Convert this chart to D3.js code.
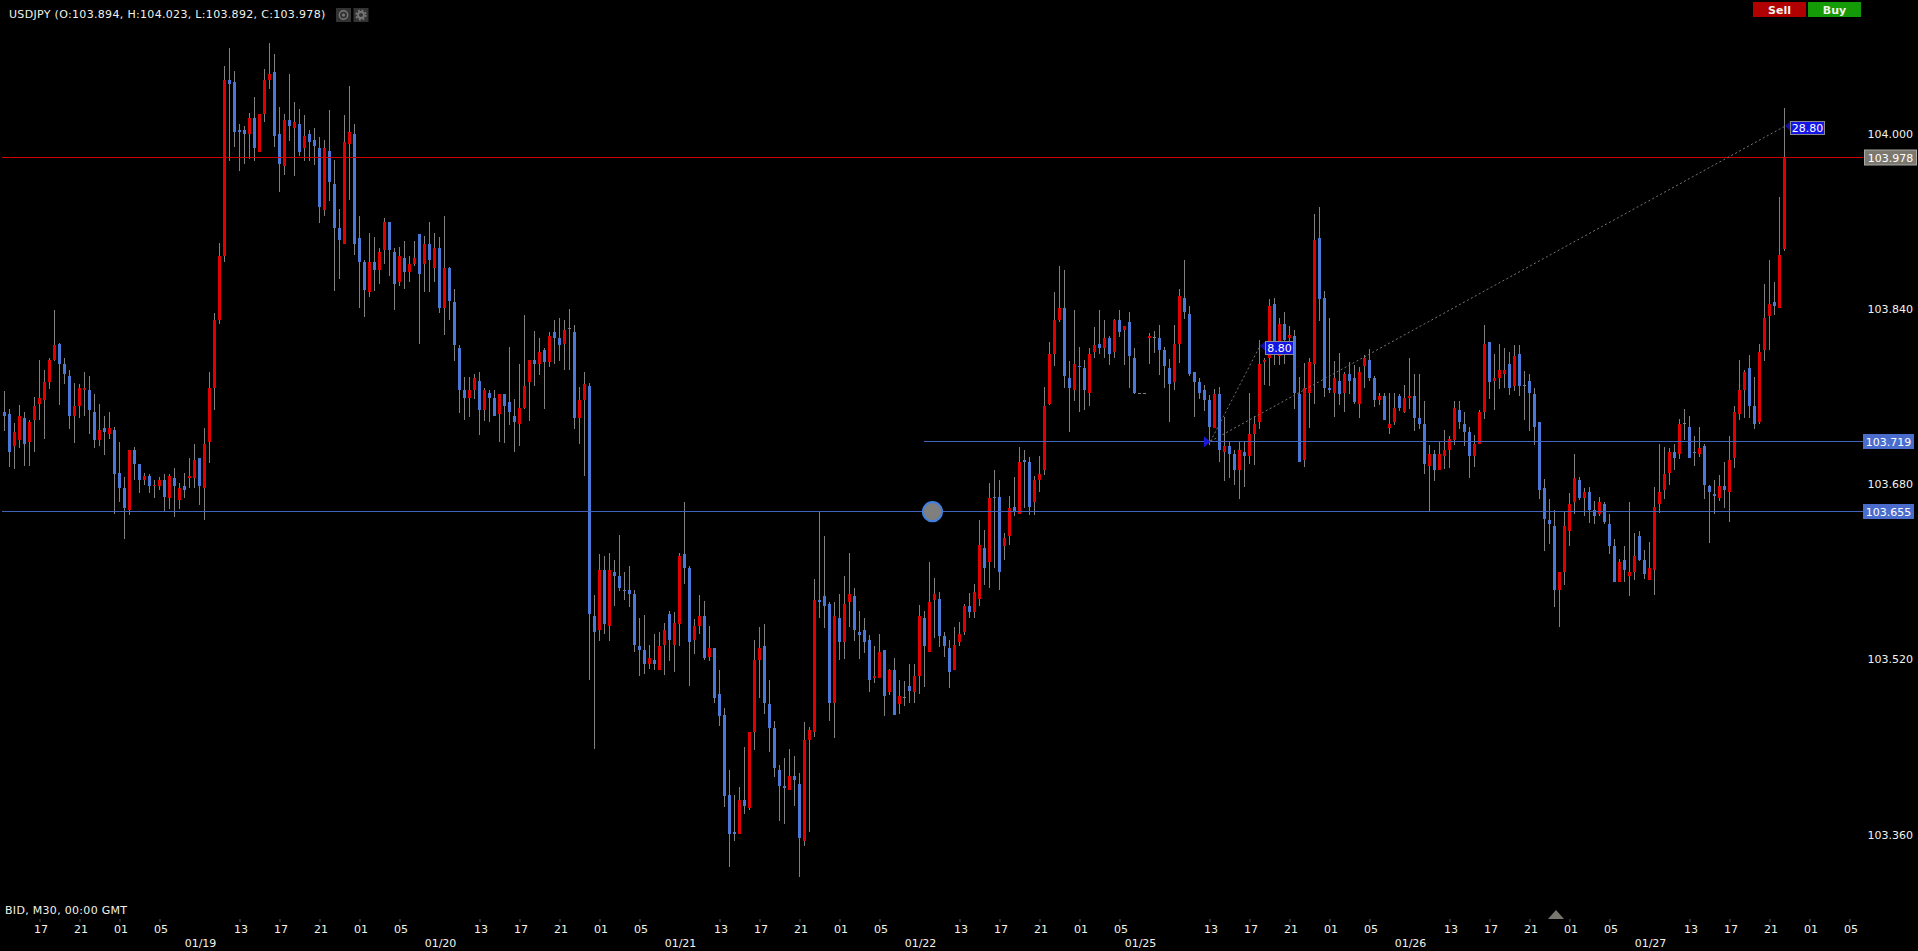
<!DOCTYPE html>
<html>
<head>
<meta charset="utf-8">
<title>USDJPY M30</title>
<script src="https://d3js.org/d3.v7.min.js"></script>
<style>
  html, body { margin: 0; padding: 0; background: #000; overflow: hidden; }
  svg { display: block; }
  text { font-family: "DejaVu Sans", sans-serif; font-size: 11px; fill: #f2f2ea; }
</style>
</head>
<body>
<svg id="chart" width="1918" height="951"></svg>
<script>
var highs = [
103.764,103.748,103.735,103.752,103.745,103.738,103.759,103.793,103.784,103.795,
103.838,103.808,103.795,103.784,103.772,103.771,103.782,103.778,103.762,103.753,
103.742,103.745,103.732,103.718,103.686,103.711,103.713,103.698,103.690,103.689,
103.683,103.686,103.689,103.689,103.694,103.680,103.690,103.703,103.716,103.703,
103.731,103.782,103.836,103.900,104.061,104.078,104.057,104.008,104.006,104.018,
104.033,104.017,104.058,104.082,104.072,104.024,104.017,104.054,104.028,104.022,
104.016,104.003,104.005,103.996,103.994,104.021,103.975,103.931,104.016,104.043,
104.008,103.924,103.884,103.909,103.905,103.895,103.922,103.919,103.895,103.896,
103.901,103.888,103.901,103.908,103.906,103.919,103.909,103.905,103.924,103.878,
103.858,103.806,103.777,103.777,103.780,103.782,103.767,103.765,103.765,103.762,
103.762,103.805,103.757,103.789,103.834,103.793,103.819,103.813,103.804,103.818,
103.829,103.831,103.829,103.839,103.825,103.768,103.782,103.772,103.578,103.616,
103.614,103.617,103.610,103.633,103.599,103.605,103.583,103.557,103.560,103.533,
103.543,103.544,103.553,103.564,103.563,103.617,103.663,103.605,103.556,103.578,
103.573,103.550,103.530,103.510,103.475,103.418,103.396,103.403,103.439,103.453,
103.537,103.549,103.552,103.501,103.463,103.423,103.429,103.438,103.431,103.416,
103.462,103.458,103.593,103.654,103.632,103.572,103.572,103.579,103.596,103.617,
103.585,103.564,103.557,103.542,103.532,103.543,103.528,103.511,103.521,103.501,
103.500,103.515,103.515,103.569,103.564,103.608,103.594,103.581,103.544,103.537,
103.549,103.554,103.570,103.580,103.588,103.647,103.638,103.680,103.692,103.683,
103.635,103.669,103.686,103.713,103.711,103.704,103.687,103.705,103.768,103.809,
103.855,103.879,103.875,103.792,103.838,103.805,103.793,103.804,103.823,103.838,
103.829,103.815,103.830,103.838,103.824,103.837,103.804,103.763,103.763,103.817,
103.819,103.825,103.805,103.794,103.825,103.858,103.884,103.842,103.782,103.776,
103.770,103.761,103.766,103.768,103.741,103.718,103.711,103.718,103.718,103.763,
103.742,103.811,103.795,103.848,103.849,103.831,103.837,103.824,103.820,103.777,
103.790,103.795,103.926,103.932,103.856,103.831,103.792,103.799,103.782,103.791,
103.788,103.786,103.797,103.803,103.778,103.763,103.763,103.763,103.763,103.762,
103.770,103.795,103.780,103.780,103.755,103.715,103.711,103.718,103.729,103.723,
103.755,103.755,103.745,103.732,103.724,103.747,103.825,103.809,103.798,103.807,
103.804,103.800,103.806,103.806,103.783,103.780,103.767,103.736,103.684,103.666,
103.656,103.599,103.654,103.671,103.707,103.686,103.676,103.677,103.664,103.668,
103.663,103.652,103.629,103.611,103.623,103.663,103.635,103.637,103.619,103.627,
103.677,103.716,103.713,103.712,103.716,103.739,103.748,103.742,103.723,103.732,
103.716,103.679,103.683,103.688,103.700,103.723,103.751,103.793,103.784,103.797,
103.777,103.807,103.862,103.884,103.864,103.942,104.023
];
var opens = [
103.745,103.743,103.714,103.720,103.740,103.718,103.738,103.753,103.756,103.773,
103.793,103.807,103.789,103.778,103.742,103.751,103.765,103.765,103.745,103.720,
103.731,103.725,103.729,103.690,103.676,103.656,103.711,103.698,103.683,103.687,
103.678,103.678,103.683,103.667,103.685,103.665,103.678,103.685,103.685,103.703,
103.676,103.718,103.767,103.829,103.888,104.048,104.047,104.003,104.003,103.999,
104.014,103.983,104.017,104.048,104.056,103.999,103.970,104.012,104.005,104.008,
103.986,103.999,103.994,103.986,103.930,103.984,103.953,103.913,103.899,103.990,
103.999,103.904,103.882,103.855,103.882,103.875,103.893,103.919,103.891,103.864,
103.886,103.873,103.880,103.908,103.880,103.899,103.877,103.895,103.840,103.877,
103.846,103.804,103.765,103.758,103.765,103.774,103.747,103.763,103.758,103.743,
103.762,103.754,103.742,103.734,103.749,103.773,103.793,103.789,103.802,103.791,
103.818,103.813,103.807,103.822,103.818,103.740,103.756,103.769,103.559,103.546,
103.601,103.550,103.599,103.596,103.583,103.583,103.579,103.532,103.528,103.515,
103.519,103.510,103.533,103.561,103.533,103.552,103.616,103.603,103.537,103.550,
103.559,103.522,103.530,103.488,103.469,103.396,103.362,103.360,103.391,103.384,
103.453,103.519,103.532,103.479,103.457,103.418,103.404,103.400,103.413,103.406,
103.354,103.446,103.453,103.574,103.577,103.570,103.480,103.557,103.535,103.572,
103.577,103.544,103.546,103.537,103.502,103.502,103.528,103.490,103.510,103.479,
103.485,103.495,103.490,103.504,103.557,103.526,103.574,103.575,103.541,103.530,
103.510,103.535,103.544,103.568,103.563,103.575,103.621,103.608,103.668,103.668,
103.623,103.632,103.659,103.652,103.701,103.700,103.663,103.683,103.692,103.753,
103.798,103.829,103.840,103.776,103.765,103.787,103.785,103.763,103.800,103.807,
103.804,103.813,103.800,103.829,103.820,103.827,103.795,103.763,103.763,103.813,
103.814,103.813,103.802,103.785,103.773,103.807,103.849,103.835,103.782,103.773,
103.765,103.756,103.731,103.762,103.709,103.714,103.707,103.692,103.709,103.705,
103.725,103.736,103.791,103.795,103.844,103.796,103.826,103.813,103.815,103.762,
103.701,103.763,103.789,103.904,103.849,103.767,103.763,103.774,103.763,103.780,
103.776,103.753,103.787,103.793,103.776,103.756,103.760,103.731,103.736,103.760,
103.745,103.758,103.760,103.740,103.734,103.696,103.707,103.692,103.705,103.711,
103.720,103.747,103.734,103.727,103.705,103.716,103.745,103.809,103.774,103.776,
103.780,103.789,103.769,103.798,103.770,103.774,103.762,103.736,103.676,103.647,
103.641,103.583,103.599,103.637,103.663,103.683,103.667,103.672,103.656,103.652,
103.661,103.643,103.623,103.590,103.610,103.596,103.599,103.632,103.610,103.592,
103.601,103.661,103.674,103.690,103.709,103.707,103.735,103.732,103.709,103.707,
103.714,103.678,103.670,103.667,103.678,103.672,103.703,103.743,103.765,103.785,
103.751,103.736,103.802,103.833,103.846,103.840,103.894
];
var closes = [
103.742,103.709,103.727,103.742,103.716,103.736,103.751,103.758,103.773,103.793,
103.806,103.789,103.780,103.742,103.751,103.767,103.767,103.747,103.720,103.729,
103.727,103.731,103.689,103.676,103.658,103.711,103.698,103.683,103.687,103.678,
103.679,103.683,103.668,103.687,103.678,103.676,103.674,103.687,103.701,103.678,
103.716,103.767,103.829,103.888,104.048,104.045,104.001,104.001,103.999,104.014,
103.986,104.017,104.048,104.054,103.997,103.972,104.012,104.006,104.010,103.983,
103.997,103.992,103.988,103.932,103.986,103.955,103.913,103.902,103.992,104.001,
103.899,103.882,103.857,103.882,103.875,103.891,103.919,103.893,103.862,103.888,
103.873,103.880,103.886,103.871,103.899,103.884,103.895,103.840,103.877,103.847,
103.806,103.765,103.758,103.765,103.776,103.747,103.765,103.758,103.742,103.762,
103.751,103.745,103.736,103.749,103.769,103.793,103.789,103.800,103.791,103.815,
103.813,103.806,103.820,103.822,103.740,103.756,103.771,103.561,103.544,103.601,
103.552,103.601,103.596,103.585,103.582,103.579,103.533,103.528,103.515,103.521,
103.515,103.532,103.546,103.537,103.553,103.614,103.603,103.535,103.550,103.559,
103.521,103.530,103.484,103.468,103.395,103.360,103.360,103.391,103.386,103.453,
103.519,103.530,103.480,103.457,103.420,103.404,103.402,103.413,103.409,103.356,
103.446,103.455,103.574,103.572,103.568,103.480,103.559,103.535,103.570,103.579,
103.546,103.542,103.535,103.501,103.504,103.526,103.486,103.510,103.469,103.486,
103.485,103.491,103.504,103.559,103.532,103.572,103.579,103.541,103.532,103.508,
103.533,103.543,103.568,103.563,103.581,103.624,103.603,103.667,103.667,103.599,
103.630,103.658,103.655,103.700,103.700,103.659,103.683,103.689,103.751,103.798,
103.829,103.840,103.778,103.767,103.789,103.786,103.765,103.798,103.806,103.804,
103.813,103.798,103.829,103.818,103.824,103.796,103.763,103.763,103.763,103.815,
103.814,103.802,103.787,103.771,103.807,103.851,103.837,103.780,103.773,103.763,
103.756,103.732,103.762,103.711,103.714,103.707,103.692,103.711,103.705,103.725,
103.734,103.789,103.793,103.842,103.802,103.826,103.811,103.816,103.763,103.700,
103.767,103.791,103.902,103.848,103.767,103.765,103.776,103.762,103.780,103.774,
103.754,103.782,103.795,103.776,103.756,103.760,103.738,103.734,103.749,103.749,
103.758,103.760,103.740,103.734,103.698,103.707,103.692,103.707,103.711,103.721,
103.749,103.736,103.727,103.705,103.716,103.745,103.807,103.773,103.776,103.784,
103.784,103.767,103.796,103.769,103.770,103.763,103.732,103.674,103.648,103.643,
103.583,103.599,103.641,103.661,103.685,103.667,103.672,103.656,103.650,103.663,
103.645,103.623,103.590,103.608,103.601,103.599,103.614,103.610,103.597,103.603,
103.659,103.672,103.689,103.709,103.703,103.734,103.735,103.703,103.708,103.712,
103.679,103.672,103.669,103.678,103.674,103.701,103.745,103.765,103.782,103.751,
103.734,103.800,103.831,103.844,103.842,103.889,103.978
];
var lows = [
103.728,103.695,103.693,103.712,103.696,103.696,103.709,103.738,103.721,103.766,
103.792,103.752,103.771,103.730,103.717,103.740,103.742,103.725,103.712,103.714,
103.706,103.721,103.652,103.663,103.629,103.651,103.683,103.671,103.679,103.671,
103.667,103.674,103.655,103.657,103.649,103.657,103.667,103.676,103.676,103.660,
103.647,103.699,103.747,103.826,103.882,103.974,103.987,103.965,103.972,103.976,
103.974,103.983,104.010,104.040,103.987,103.946,103.962,103.993,103.961,103.979,
103.974,103.974,103.971,103.918,103.924,103.938,103.856,103.867,103.899,103.939,
103.889,103.840,103.832,103.850,103.856,103.862,103.880,103.869,103.838,103.860,
103.858,103.864,103.879,103.807,103.855,103.855,103.864,103.836,103.816,103.829,
103.792,103.744,103.738,103.741,103.757,103.724,103.737,103.736,103.742,103.718,
103.717,103.733,103.709,103.714,103.748,103.737,103.769,103.779,103.748,103.786,
103.789,103.792,103.784,103.784,103.730,103.716,103.687,103.501,103.438,103.536,
103.543,103.536,103.568,103.582,103.574,103.567,103.526,103.504,103.506,103.511,
103.510,103.510,103.505,103.518,103.508,103.532,103.588,103.495,103.524,103.543,
103.519,103.518,103.480,103.459,103.385,103.330,103.354,103.360,103.378,103.382,
103.437,103.484,103.470,103.435,103.412,103.372,103.369,103.400,103.386,103.321,
103.349,103.362,103.449,103.557,103.548,103.463,103.448,103.519,103.520,103.549,
103.536,103.520,103.525,103.490,103.498,103.502,103.468,103.487,103.469,103.470,
103.477,103.480,103.480,103.488,103.494,103.526,103.539,103.531,103.522,103.493,
103.510,103.532,103.542,103.557,103.557,103.568,103.587,103.585,103.603,103.583,
103.610,103.624,103.650,103.652,103.658,103.651,103.651,103.672,103.688,103.752,
103.787,103.827,103.767,103.727,103.755,103.745,103.747,103.751,103.795,103.798,
103.795,103.788,103.795,103.814,103.788,103.767,103.762,103.763,103.763,103.789,
103.799,103.779,103.767,103.736,103.765,103.790,103.830,103.778,103.741,103.757,
103.746,103.715,103.731,103.700,103.682,103.685,103.679,103.666,103.677,103.698,
103.697,103.730,103.770,103.769,103.788,103.788,103.789,103.808,103.748,103.700,
103.695,103.731,103.753,103.828,103.759,103.763,103.741,103.752,103.745,103.762,
103.753,103.740,103.767,103.774,103.750,103.752,103.738,103.725,103.733,103.746,
103.744,103.748,103.728,103.730,103.689,103.655,103.682,103.692,103.693,103.694,
103.715,103.730,103.714,103.685,103.695,103.716,103.739,103.757,103.747,103.766,
103.767,103.761,103.764,103.760,103.738,103.728,103.715,103.666,103.618,103.625,
103.567,103.549,103.587,103.623,103.652,103.665,103.650,103.644,103.643,103.650,
103.643,103.616,103.590,103.590,103.590,103.577,103.592,103.609,103.593,103.592,
103.578,103.653,103.666,103.679,103.692,103.702,103.720,103.703,103.696,103.704,
103.666,103.626,103.652,103.664,103.658,103.645,103.694,103.738,103.740,103.740,
103.730,103.734,103.792,103.802,103.834,103.840,103.892
];

// price axis
var priceTicks = [104.000, 103.840, 103.680, 103.520, 103.360];
// price levels drawn across the chart
var lastPrice = 103.978, levelLow = 103.655, levelMid = 103.719;
// measure tool: starts on levelMid, ends at these pip distances
var measureStartBar = 241;
var measureBars = [251, 356];
var measurePips = [8.80, 28.80];

// time axis, positions in bar numbers
var hourBars = [7,15,23,31, 47,55,63,71,79, 95,103,111,119,127, 143,151,159,167,175,
  191,199,207,215,223, 241,249,257,265,273, 289,297,305,313,321, 337,345,353,361,369];
var hourLabels = ["17","21","01","05", "13","17","21","01","05", "13","17","21","01","05",
  "13","17","21","01","05", "13","17","21","01","05", "13","17","21","01","05",
  "13","17","21","01","05", "13","17","21","01","05"];
var dateBars = [39, 87, 135, 183, 227, 281, 329];
var dateLabels = ["01/19","01/20","01/21","01/22","01/25","01/26","01/27"];

var upColor = "#e00000", downColor = "#4a78d6", wickColor = "#808080";
var lineBlue = "#4163bd";

var svg = d3.select("#chart");

var x = d3.scaleLinear().domain([0, highs.length - 1]).range([4.5, 4.5 + 5 * (highs.length - 1)]);
var y = d3.scaleLinear().domain([103.36, 104]).range([834.5, 133.5]);

var bars = d3.range(highs.length);

// wicks
svg.append("g").selectAll("line").data(bars).enter().append("line")
  .attr("x1", function(i) { return x(i); })
  .attr("x2", function(i) { return x(i); })
  .attr("y1", function(i) { return Math.floor(y(highs[i])); })
  .attr("y2", function(i) { return Math.floor(y(lows[i])); })
  .attr("stroke", wickColor)
  .attr("stroke-width", 1);

// bodies
svg.append("g").selectAll("rect").data(bars).enter().append("rect")
  .attr("x", function(i) { return x(i) - 1.5; })
  .attr("width", 3)
  .attr("y", function(i) { return Math.floor(y(Math.max(opens[i], closes[i]))); })
  .attr("height", function(i) {
    var top = Math.floor(y(Math.max(opens[i], closes[i])));
    var bot = Math.floor(y(Math.min(opens[i], closes[i])));
    return Math.max(1, bot - top);
  })
  .attr("fill", function(i) {
    if (closes[i] === opens[i]) return wickColor;
    return closes[i] > opens[i] ? upColor : downColor;
  });

// horizontal levels
function level(price, x1, color) {
  var py = Math.floor(y(price)) + 0.5;
  svg.append("line").attr("x1", x1).attr("x2", 1863).attr("y1", py).attr("y2", py)
    .attr("stroke", color).attr("stroke-width", 1);
}
level(lastPrice, 2, "#cc0000");
level(levelLow, 2, lineBlue);
level(levelMid, 924, lineBlue);

// alert handle on the low level
svg.append("circle").attr("cx", 932.5).attr("cy", y(levelLow) + 0.3).attr("r", 9.6)
  .attr("fill", "#7f7f7f").attr("stroke", "#3f7fe0").attr("stroke-width", 2);

// measure tool
var measureY = measurePips.map(function(p) { return y(levelMid + p / 100); });
measureBars.forEach(function(b, k) {
  svg.append("line")
    .attr("x1", x(measureStartBar) + 1).attr("y1", y(levelMid))
    .attr("x2", x(b) + 1).attr("y2", measureY[k])
    .attr("stroke", "#777").attr("stroke-width", 1).attr("stroke-dasharray", "2,2.5");
});
svg.append("path")
  .attr("d", d3.line()([[x(measureStartBar) - 5.5, y(levelMid) - 5], [x(measureStartBar) + 1, y(levelMid) + 0.5], [x(measureStartBar) - 5.5, y(levelMid) + 6]]) + "Z")
  .attr("fill", "#1818d8");
measureBars.forEach(function(b, k) {
  var mx = x(b) + 0.5;
  // first tag sits a little under the end of its line
  var my = Math.round(measureY[k]) + (k === 0 ? 1 : 0);
  var w = k === 0 ? 28 : 34;
  svg.append("path")
    .attr("d", d3.line()([[mx + 5.5, my - 5], [mx, my], [mx + 5.5, my + 5]]) + "Z")
    .attr("fill", "#0f0fa0");
  svg.append("rect").attr("x", mx + 5.5).attr("y", my - 4.5).attr("width", w).attr("height", 13)
    .attr("fill", "#1414e6").attr("stroke", "#8a8a8a").attr("stroke-width", 1);
  svg.append("text").attr("x", mx + 5.5 + w / 2).attr("y", my + 6)
    .attr("text-anchor", "middle").style("fill", "#fff")
    .text(measurePips[k].toFixed(2));
});

// price axis
var yAxis = d3.axisLeft(y).tickValues(priceTicks).tickFormat(d3.format(".3f")).tickSize(0).tickPadding(0);
var yG = svg.append("g").attr("transform", "translate(1913,0)").call(yAxis);
yG.select(".domain").remove();
yG.selectAll("text").style("font-size", "11px").style("font-family", "\"DejaVu Sans\", sans-serif").style("fill", "#f2f2ea");

// price tags on the right
function priceTag(price, x0, w, fill, stroke) {
  var py = Math.floor(y(price));
  svg.append("rect").attr("x", x0).attr("y", py - 7).attr("width", w).attr("height", 15)
    .attr("fill", fill).attr("stroke", stroke || "none");
  svg.append("text").attr("x", x0 + w / 2).attr("y", py + 4.5).attr("text-anchor", "middle")
    .style("fill", "#fff").text(price.toFixed(3));
}
priceTag(lastPrice, 1864.5, 52, "#7d786e", "#a8a8a8");
priceTag(levelMid, 1863, 51, "#4a6ccc");
priceTag(levelLow, 1863, 51, "#4a6ccc");

// time axis
var xAxis = d3.axisBottom(x).tickValues(hourBars)
  .tickFormat(function(d, i) { return hourLabels[i]; })
  .tickSize(3).tickPadding(3);
var xG = svg.append("g").attr("transform", "translate(0,919)").call(xAxis);
xG.select(".domain").remove();
xG.selectAll(".tick line").attr("stroke", "#555");
xG.selectAll(".tick text").attr("dx", 1)
  .style("font-size", "11px").style("font-family", "\"DejaVu Sans\", sans-serif").style("fill", "#f2f2ea");

svg.append("g").selectAll("text").data(dateBars).enter().append("text")
  .attr("x", function(d) { return x(d) + 1; })
  .attr("y", 947)
  .attr("text-anchor", "middle")
  .text(function(d, i) { return dateLabels[i]; });

svg.append("text").attr("x", 5).attr("y", 914).style("letter-spacing", "0.3px").text("BID, M30, 00:00 GMT");

// scroll marker above the time axis
svg.append("path").attr("d", "M1548,919L1556,910L1564,919Z").attr("fill", "#77776f");

// header
svg.append("text").attr("x", 9).attr("y", 17.5).style("letter-spacing", "0.32px").text("USDJPY (O:103.894, H:104.023, L:103.892, C:103.978)");

svg.append("rect").attr("x", 336).attr("y", 8).attr("width", 15).attr("height", 14).attr("fill", "#333");
svg.append("rect").attr("x", 353.5).attr("y", 8).attr("width", 15).attr("height", 14).attr("fill", "#333");
svg.append("circle").attr("cx", 343.5).attr("cy", 15).attr("r", 4.2).attr("fill", "none").attr("stroke", "#777").attr("stroke-width", 1.4);
svg.append("circle").attr("cx", 343.5).attr("cy", 15).attr("r", 1.6).attr("fill", "#777");
svg.append("circle").attr("cx", 361).attr("cy", 15).attr("r", 3).attr("fill", "none").attr("stroke", "#777").attr("stroke-width", 1.8);
svg.append("circle").attr("cx", 361).attr("cy", 15).attr("r", 4.8).attr("fill", "none").attr("stroke", "#777").attr("stroke-width", 1.6).attr("stroke-dasharray", "2,1.77");

svg.append("rect").attr("x", 1753).attr("y", 2).attr("width", 53).attr("height", 15).attr("fill", "#b00000");
svg.append("rect").attr("x", 1808).attr("y", 2).attr("width", 53).attr("height", 15).attr("fill", "#149a06");
svg.append("text").attr("x", 1779.5).attr("y", 13.5).attr("text-anchor", "middle").style("font-weight", "bold").text("Sell");
svg.append("text").attr("x", 1834.5).attr("y", 13.5).attr("text-anchor", "middle").style("font-weight", "bold").text("Buy");
</script>
</body>
</html>
